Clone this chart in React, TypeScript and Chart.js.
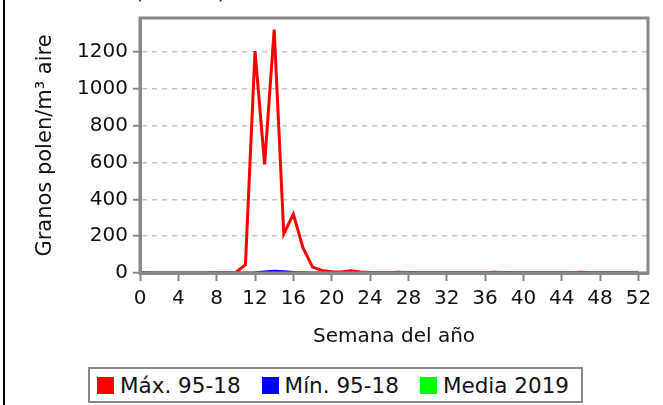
import React, { useEffect, useRef } from "react";
import { Chart, registerables } from "chart.js";

Chart.register(...registerables);

const titleText = "(Plátano)";
const xTitle = "Semana del año";
const yTitle = "Granos polen/m³ aire";

const weeks = [
  0, 1, 2, 3, 4, 5, 6, 7, 8, 9, 10, 11, 12, 13, 14, 15, 16, 17, 18, 19, 20,
  21, 22, 23, 24, 25, 26, 27, 28, 29, 30, 31, 32, 33, 34, 35, 36, 37, 38, 39,
  40, 41, 42, 43, 44, 45, 46, 47, 48, 49, 50, 51, 52,
];
const maxValues = [
  0, 0, 0, 0, 0, 0, 0, 0, 1, 2, 3, 45, 1205, 590, 1322, 213, 320, 137, 32, 14,
  7, 6, 12, 5, 3, 2, 2, 4, 3, 2, 1, 1, 2, 2, 1, 2, 2, 4, 3, 1, 1, 1, 1, 1, 1,
  2, 4, 2, 1, 1, 2, 2, 1,
];
const minValues = [
  0, 0, 0, 0, 0, 0, 0, 0, 0, 0, 0, 0, 1, 5, 10, 7, 3, 1, 0, 0, 0, 0, 0, 0, 0,
  0, 0, 0, 0, 0, 0, 0, 0, 0, 0, 0, 0, 0, 0, 0, 0, 0, 0, 0, 0, 0, 0, 0, 0, 0,
  0, 0, 0,
];
const mediaWeeks = [0, 1];
const mediaValues = [0, 0];

const seriesLabels = ["Máx. 95-18", "Mín. 95-18", "Media 2019"];
const seriesColors = ["#ff0000", "#0000ff", "#00ff00"];

const xTickValues = [0, 4, 8, 12, 16, 20, 24, 28, 32, 36, 40, 44, 48, 52];
const yTickValues = [0, 200, 400, 600, 800, 1000, 1200];

const FONT = "'DejaVu Sans', sans-serif";

const framePlugin = {
  id: "frame",
  afterDatasetsDraw(chart: any) {
    const { ctx, chartArea } = chart;
    const { left, top, right, bottom } = chartArea;
    ctx.save();
    ctx.strokeStyle = "#888888";
    ctx.lineWidth = 3;
    ctx.strokeRect(left, top, right - left, bottom - top);
    ctx.restore();
  },
};

export default function App() {
  const canvasRef = useRef<HTMLCanvasElement | null>(null);

  useEffect(() => {
    document.body.style.margin = "0";
    const canvas = canvasRef.current;
    if (!canvas) return;
    const toPts = (xs: number[], ys: number[]) =>
      xs.map((x, i) => ({ x, y: ys[i] }));
    const chart = new Chart(canvas, {
      type: "line",
      data: {
        datasets: [
          {
            label: seriesLabels[0],
            data: toPts(weeks, maxValues),
            borderColor: seriesColors[0],
            backgroundColor: seriesColors[0],
            borderWidth: 3,
            pointRadius: 0,
            tension: 0,
          },
          {
            label: seriesLabels[1],
            data: toPts(weeks, minValues),
            borderColor: seriesColors[1],
            backgroundColor: seriesColors[1],
            borderWidth: 3,
            pointRadius: 0,
            tension: 0,
          },
          {
            label: seriesLabels[2],
            data: toPts(mediaWeeks, mediaValues),
            borderColor: seriesColors[2],
            backgroundColor: seriesColors[2],
            borderWidth: 3,
            pointRadius: 0,
            tension: 0,
          },
        ],
      },
      options: {
        animation: false,
        responsive: false,
        devicePixelRatio: 1,
        layout: { padding: { left: 0, right: 15, top: 18, bottom: 0 } },
        plugins: {
          legend: { display: false },
          tooltip: { enabled: false },
          title: { display: false },
        },
        scales: {
          x: {
            type: "linear",
            min: 0,
            max: 53,
            afterBuildTicks: (scale: any) => {
              scale.ticks = xTickValues.map((v) => ({ value: v }));
            },
            afterFit: (scale: any) => {
              scale.height = 87;
            },
            ticks: {
              font: { family: FONT, size: 20 },
              color: "#111111",
              padding: 6,
              maxRotation: 0,
              autoSkip: false,
              callback: (v: any) => String(v),
            },
            grid: {
              drawOnChartArea: false,
              drawTicks: true,
              tickLength: 8,
              tickWidth: 2,
              tickColor: "#888888",
            },
            border: { display: true, color: "#888888", width: 3 },
            title: {
              display: true,
              text: xTitle,
              font: { family: FONT, size: 20 },
              color: "#111111",
              padding: { top: 0, bottom: 11 },
            },
          },
          y: {
            type: "linear",
            min: 0,
            max: 1385,
            afterBuildTicks: (scale: any) => {
              scale.ticks = yTickValues.map((v) => ({ value: v }));
            },
            afterFit: (scale: any) => {
              scale.width = 140;
            },
            ticks: {
              font: { family: FONT, size: 20 },
              color: "#111111",
              padding: 5,
              callback: (v: any) => String(v),
            },
            grid: {
              color: (c: any) =>
                c.tick && c.tick.value === 0 ? "rgba(0,0,0,0)" : "#c4c4c4",
              lineWidth: 1.5,
              drawTicks: true,
              tickLength: 7,
              tickWidth: 2,
              tickColor: "#888888",
              tickBorderDash: [],
            },
            border: { display: true, color: "#888888", width: 3, dash: [5, 5] },
            title: {
              display: true,
              text: yTitle,
              font: { family: FONT, size: 21 },
              color: "#111111",
              padding: { top: 33, bottom: 0 },
            },
          },
        },
      },
      plugins: [framePlugin],
    } as any);
    return () => chart.destroy();
  }, []);

  return (
    <div
      style={{
        position: "relative",
        width: 663,
        height: 405,
        overflow: "hidden",
        background: "#ffffff",
        fontFamily: FONT,
      }}
    >
      <div
        style={{
          position: "absolute",
          left: 3,
          top: 0,
          width: 2,
          height: 405,
          background: "#000000",
        }}
      />
      <div
        style={{
          position: "absolute",
          left: 135,
          top: -20,
          fontSize: 20,
          lineHeight: "24px",
          whiteSpace: "nowrap",
          color: "#111111",
        }}
      >
        {titleText}
      </div>
      <canvas
        ref={canvasRef}
        width={663}
        height={360}
        style={{ position: "absolute", left: 0, top: 0, width: 663, height: 360 }}
      />
      <div
        style={{
          position: "absolute",
          left: 88,
          top: 367,
          width: 495,
          height: 36,
          boxSizing: "border-box",
          border: "2px solid #888888",
          display: "flex",
          alignItems: "center",
          paddingLeft: 7,
          fontSize: 21.5,
          color: "#111111",
          whiteSpace: "nowrap",
        }}
      >
        {seriesLabels.map((label, i) => (
          <span
            key={label}
            style={{ display: "flex", alignItems: "center", marginRight: 21 }}
          >
            <span
              style={{
                display: "inline-block",
                width: 17,
                height: 17,
                background: seriesColors[i],
                marginRight: 6,
              }}
            />
            <span>{label}</span>
          </span>
        ))}
      </div>
    </div>
  );
}
